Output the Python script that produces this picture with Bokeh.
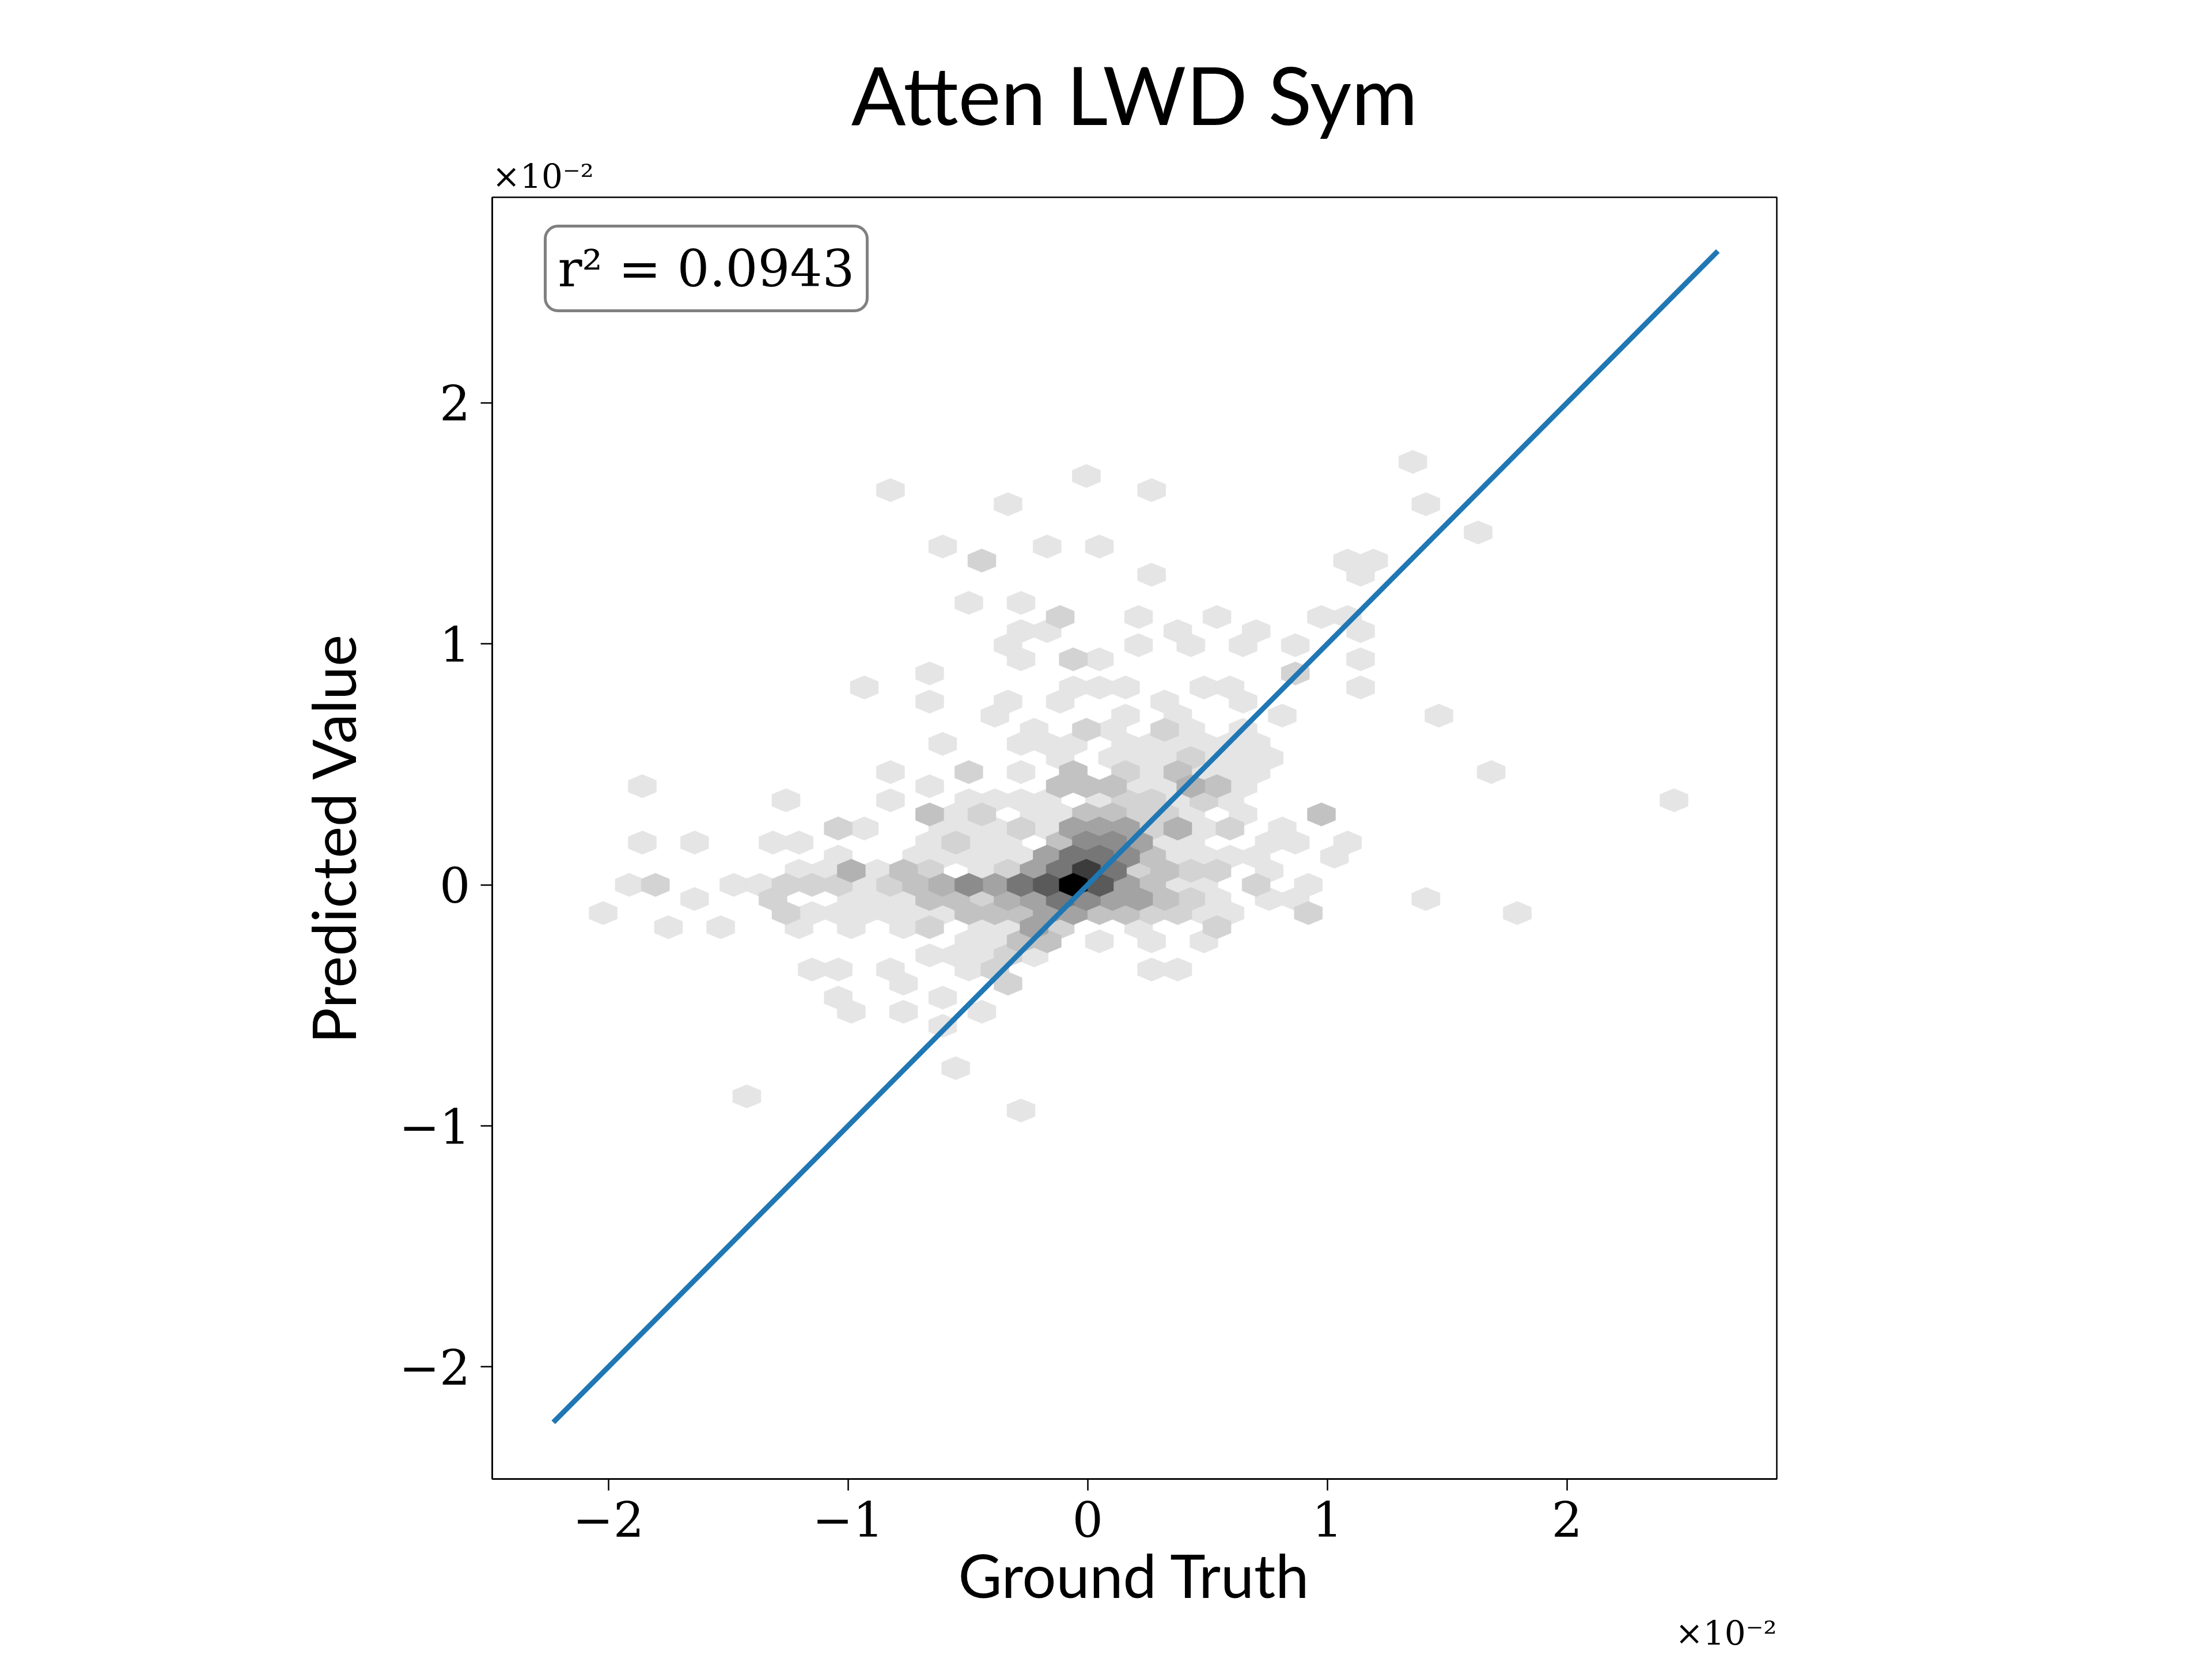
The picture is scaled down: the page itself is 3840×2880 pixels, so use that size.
import numpy as np
from bokeh.plotting import figure
from bokeh.models import Label, ColumnDataSource, Title
from bokeh.embed import file_html
from bokeh.resources import INLINE

# hexbin cells: (row, doubled column, count)
# values are in units of 1e-2
cells = [
    (30, 26, 2), (29, 1, 2), (28, -14, 2), (28, 6, 2), (27, -5, 2), (27, 27, 2), (25, 31, 2),
    (24, -10, 2), (24, -2, 2), (24, 2, 2), (23, -7, 3), (23, 21, 2), (23, 23, 2), (22, 6, 2), (22, 22, 2),
    (20, -8, 2), (20, -4, 2),
    (19, -1, 3), (19, 5, 2), (19, 11, 2), (19, 19, 2), (19, 21, 2),
    (18, -4, 2), (18, -2, 2), (18, 8, 2), (18, 14, 2), (18, 22, 2),
    (17, -5, 2), (17, 5, 2), (17, 9, 2), (17, 13, 2), (17, 17, 2),
    (16, -4, 2), (16, 0, 3), (16, 2, 2), (16, 22, 2),
    (15, -11, 2), (15, 17, 3),
    (14, -16, 2), (14, 0, 2), (14, 2, 2), (14, 4, 2), (14, 10, 2), (14, 12, 2), (14, 22, 2),
    (13, -11, 2), (13, -5, 2), (13, -1, 2), (13, 7, 2), (13, 13, 2),
    (12, -6, 2), (12, 4, 2), (12, 8, 2), (12, 16, 2), (12, 28, 2),
    (11, -3, 2), (11, 1, 3), (11, 3, 2), (11, 7, 3), (11, 9, 2), (11, 13, 2),
    (10, -10, 2), (10, -4, 2), (10, -2, 2), (10, 0, 2), (10, 4, 2), (10, 6, 2), (10, 8, 2), (10, 10, 2), (10, 12, 2), (10, 14, 2),
    (9, -1, 2), (9, 3, 2), (9, 5, 2), (9, 7, 2), (9, 9, 3), (9, 11, 2), (9, 13, 2), (9, 15, 2),
    (8, -14, 2), (8, -8, 3), (8, -4, 2), (8, 0, 4), (8, 4, 3), (8, 6, 2), (8, 8, 4), (8, 10, 2), (8, 12, 2), (8, 14, 2), (8, 32, 2),
    (7, -33, 2), (7, -11, 2), (7, -1, 4), (7, 1, 4), (7, 3, 4), (7, 5, 2), (7, 7, 2), (7, 9, 5), (7, 11, 4), (7, 13, 2),
    (6, -22, 2), (6, -14, 2), (6, -8, 2), (6, -6, 2), (6, -4, 2), (6, -2, 2), (6, 2, 2), (6, 4, 3), (6, 6, 3), (6, 8, 2), (6, 10, 3), (6, 12, 2), (6, 46, 2),
    (5, -11, 4), (5, -9, 2), (5, -7, 3), (5, -3, 2), (5, -1, 2), (5, 1, 4), (5, 3, 4), (5, 5, 3), (5, 7, 3), (5, 9, 2), (5, 13, 2), (5, 19, 4),
    (4, -18, 3), (4, -16, 2), (4, -10, 2), (4, -8, 2), (4, -6, 2), (4, -4, 3), (4, -2, 2), (4, 0, 6), (4, 2, 6), (4, 4, 6), (4, 6, 3), (4, 8, 5), (4, 10, 2), (4, 12, 3), (4, 16, 2),
    (3, -33, 2), (3, -29, 2), (3, -23, 2), (3, -21, 2), (3, -11, 2), (3, -9, 3), (3, -7, 2), (3, -5, 2), (3, -1, 4), (3, 1, 7), (3, 3, 7), (3, 5, 6), (3, 7, 2), (3, 9, 2), (3, 15, 2), (3, 17, 2), (3, 21, 2),
    (2, -18, 2), (2, -12, 2), (2, -10, 2), (2, -8, 2), (2, -6, 2), (2, -4, 2), (2, -2, 6), (2, 0, 8), (2, 2, 8), (2, 4, 7), (2, 6, 4), (2, 8, 2), (2, 10, 2), (2, 12, 2), (2, 14, 2), (2, 20, 2),
    (1, -21, 2), (1, -19, 2), (1, -17, 5), (1, -15, 2), (1, -13, 4), (1, -11, 3), (1, -7, 2), (1, -5, 3), (1, -3, 6), (1, -1, 8), (1, 1, 10), (1, 3, 8), (1, 5, 3), (1, 7, 4), (1, 9, 3), (1, 11, 3), (1, 15, 2),
    (0, -34, 2), (0, -32, 3), (0, -26, 2), (0, -24, 2), (0, -22, 3), (0, -20, 3), (0, -18, 3), (0, -16, 2), (0, -14, 3), (0, -12, 4), (0, -10, 5), (0, -8, 7), (0, -6, 6), (0, -4, 8), (0, -2, 9), (0, 0, 12), (0, 2, 9), (0, 4, 6), (0, 6, 4), (0, 8, 2), (0, 10, 2), (0, 14, 3), (0, 18, 2),
    (-1, -29, 2), (-1, -23, 3), (-1, -17, 2), (-1, -15, 2), (-1, -13, 2), (-1, -11, 4), (-1, -9, 4), (-1, -7, 3), (-1, -5, 5), (-1, -3, 6), (-1, -1, 8), (-1, 1, 7), (-1, 3, 6), (-1, 5, 6), (-1, 7, 4), (-1, 9, 3), (-1, 11, 2), (-1, 15, 2), (-1, 17, 2), (-1, 27, 2),
    (-2, -36, 2), (-2, -22, 3), (-2, -20, 2), (-2, -18, 2), (-2, -16, 2), (-2, -14, 2), (-2, -12, 2), (-2, -10, 2), (-2, -8, 4), (-2, -6, 4), (-2, -4, 4), (-2, -2, 6), (-2, 0, 6), (-2, 2, 4), (-2, 4, 4), (-2, 6, 3), (-2, 8, 3), (-2, 10, 2), (-2, 12, 2), (-2, 18, 3), (-2, 34, 2),
    (-3, -31, 2), (-3, -27, 2), (-3, -21, 2), (-3, -17, 2), (-3, -13, 2), (-3, -11, 3), (-3, -7, 2), (-3, -5, 2), (-3, -3, 6), (-3, -1, 3), (-3, 5, 2), (-3, 11, 3),
    (-4, -8, 2), (-4, -6, 2), (-4, -4, 4), (-4, -2, 4), (-4, 2, 2), (-4, 6, 2), (-4, 10, 2),
    (-5, -11, 2), (-5, -9, 2), (-5, -7, 2), (-5, -5, 3), (-5, -3, 2),
    (-6, -20, 2), (-6, -18, 2), (-6, -14, 2), (-6, -8, 2), (-6, -6, 3), (-6, 6, 2), (-6, 8, 2),
    (-7, -13, 2), (-7, -5, 3),
    (-8, -18, 2), (-8, -10, 2),
    (-9, -17, 2), (-9, -13, 2), (-9, -7, 2),
    (-10, -10, 2), (-13, -9, 2), (-15, -25, 2), (-16, -4, 2),
]

fit_x = [-2.23, 2.63]
fit_y = [-2.23, 2.63]
r2_text = "r\u00b2 = 0.0943"
ticks = [-2, -1, 0, 1, 2]
scale_text = "\u00d710\u207b\u00b2"

# hex grid geometry (matplotlib-style hexbin)
x0, dx, dy = -0.06, 0.109, 0.0585
shades = {2: "#e5e5e5", 3: "#d3d3d3", 4: "#c2c2c2", 5: "#b2b2b2", 6: "#a3a3a3",
          7: "#8c8c8c", 8: "#767676", 9: "#5a5a5a", 10: "#3c3c3c", 12: "#000000"}
hx_off = np.array([0.5, 0.5, 0, -0.5, -0.5, 0]) * dx * 1.08
hy_off = np.array([-0.5, 0.5, 1, 0.5, -0.5, -1]) * (2 * dy) / 3 * 1.25
xs, ys, cols = [], [], []
for row, col2, cnt in sorted(cells, key=lambda c: c[2]):
    cx = x0 + col2 * dx / 2
    cy = row * dy
    xs.append(list(cx + hx_off))
    ys.append(list(cy + hy_off))
    cols.append(shades[cnt])

p = figure(width=3820, height=2862, output_backend="svg", toolbar_location=None,
           x_range=(-2.485, 2.876), y_range=(-2.465, 2.853),
           frame_width=2230, frame_height=2225,
           min_border_left=854, min_border_top=342, min_border_right=736, min_border_bottom=280,
           title=None)

p.add_layout(Title(text=scale_text, align="left", text_font="DejaVu Serif",
                   text_font_size="58px", text_font_style="normal", text_color="black",
                   standoff=6), "above")
p.add_layout(Title(text="Atten LWD Sym", align="center", text_font="Lato",
                   text_font_size="140px", text_font_style="normal", text_color="black",
                   standoff=40), "above")

src = ColumnDataSource(dict(xs=xs, ys=ys, c=cols))
p.patches("xs", "ys", fill_color="c", line_color="c", line_width=0.5, source=src)
p.line(fit_x, fit_y, line_color="#1f77b4", line_width=9)

p.grid.visible = False
p.outline_line_color = "black"
p.outline_line_width = 2.5
for ax, lab in ((p.xaxis, "Ground Truth"), (p.yaxis, "Predicted Value")):
    ax.ticker = ticks
    ax.minor_tick_line_color = None
    ax.major_label_overrides = {t: str(t).replace("-", "\u2212") for t in ticks}
    ax.major_label_text_font = "DejaVu Serif"
    ax.major_label_text_font_size = "84px"
    ax.major_label_text_color = "black"
    ax.major_tick_out = 20
    ax.major_tick_in = 0
    ax.major_tick_line_width = 2.5
    ax.axis_line_width = 2.5
    ax.axis_label = lab
    ax.axis_label_text_font = "Lato"
    ax.axis_label_text_font_style = "normal"
    ax.axis_label_text_font_size = "104px"
    ax.axis_label_text_color = "black"
    ax.major_label_standoff = 18
p.xaxis.axis_label_standoff = 0
p.yaxis.axis_label_standoff = 50
p.yaxis.major_label_orientation = "horizontal"

p.add_layout(Title(text=scale_text, align="right", text_font="DejaVu Serif",
                   text_font_size="58px", text_font_style="normal", text_color="black",
                   standoff=0), "below")
p.add_layout(Label(x=-2.485, y=2.853, x_offset=92, y_offset=-50, text=r2_text,
                   text_font="DejaVu Serif", text_font_size="88px", text_baseline="top",
                   text_color="black",
                   padding=22, border_line_color="#808080", border_line_width=5,
                   border_radius=22, background_fill_color="white"))

open("out.html", "w").write(file_html(p, INLINE))
